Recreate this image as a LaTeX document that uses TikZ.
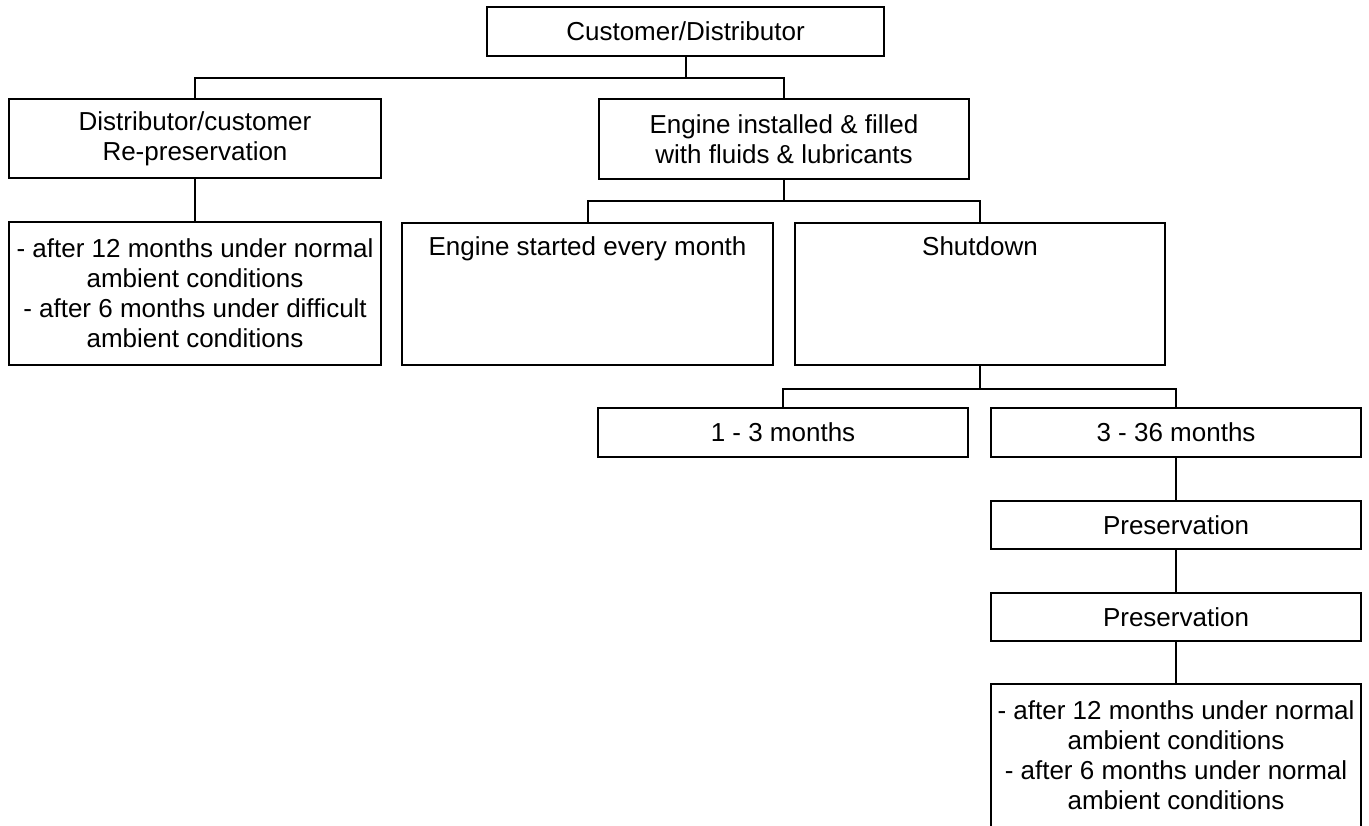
\documentclass[tikz,border=0pt]{standalone}
\usepackage{fontspec}
\setmainfont{Liberation Sans}

\begin{document}
\begin{tikzpicture}[x=0.5pt,y=-0.5pt,
  box/.style={shape=rectangle,draw=black,align=center,line width=1pt,inner sep=0pt,font=\fontsize{13}{15}\selectfont},
  tallbox/.style={box,anchor=north,text height=16pt,text depth=55pt},
  link/.style={-,draw=black,line width=1pt}]
\useasboundingbox (0,0) rectangle (1369,825);
\clip (0,0) rectangle (1369,825);
\node[box,minimum width=198.5pt,minimum height=24.5pt] (0) at (685.5,31.5) {Customer/Distributor};
\node[box,minimum width=186pt,minimum height=39.5pt] (1) at (195,138.5) {Distributor/customer\\Re-preservation};
\node[box,minimum width=185pt,minimum height=40pt] (2) at (784,139) {Engine installed \& filled\\with fluids \& lubricants};
\node[box,minimum width=186pt,minimum height=71.5pt] (3) at (195,293.5) {- after 12 months under normal\\ambient conditions\\- after 6 months under difficult\\ambient conditions};
\node[tallbox,minimum width=185.5pt] (4) at (587.5,222) {Engine started every month};
\node[tallbox,minimum width=185pt] (5) at (980,222) {Shutdown};
\node[box,minimum width=185pt,minimum height=24.5pt] (6) at (783,432.5) {1 - 3 months};
\node[box,minimum width=185pt,minimum height=24.5pt] (7) at (1176,432.5) {3 - 36 months};
\node[box,minimum width=185pt,minimum height=24pt] (8) at (1176,525) {Preservation};
\node[box,minimum width=185pt,minimum height=24pt] (9) at (1176,617) {Preservation};
\node[box,minimum width=185pt,minimum height=71.5pt] (10) at (1176,755.5) {- after 12 months under normal\\ambient conditions\\- after 6 months under normal\\ambient conditions};

\path [link] (0.south) -- ++(0,21) -| (1.north);
\path [link] (0.south) -- ++(0,21) -| (2.north);
\path [link] (1.south) -- (3.north);
\path [link] (2.south) -- ++(0,21) -| (4.north);
\path [link] (2.south) -- ++(0,21) -| (5.north);
\path [link] (5.south) -- ++(0,23) -| (6.north);
\path [link] (5.south) -- ++(0,23) -| (7.north);
\path [link] (7.south) -- (8.north);
\path [link] (8.south) -- (9.north);
\path [link] (9.south) -- (10.north);
\end{tikzpicture}
\end{document}
